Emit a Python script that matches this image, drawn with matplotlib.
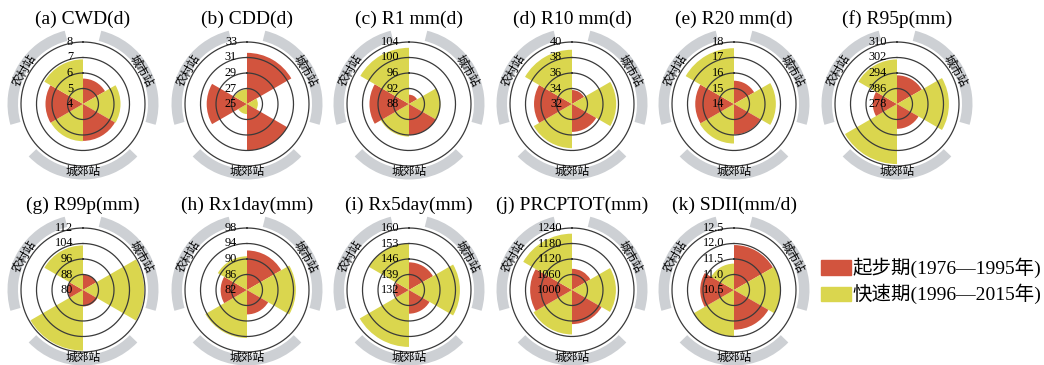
import numpy as np
import matplotlib
matplotlib.use("Agg")
import matplotlib.pyplot as plt
from matplotlib.transforms import offset_copy
from matplotlib.patches import Rectangle

plt.rcParams['font.family'] = ['Liberation Serif', 'Noto Sans CJK SC']

# ---------------- data ----------------
titles = ['(a) CWD(d)', '(b) CDD(d)', '(c) R1 mm(d)', '(d) R10 mm(d)', '(e) R20 mm(d)',
          '(f) R95p(mm)', '(g) R99p(mm)', '(h) Rx1day(mm)', '(i) Rx5day(mm)',
          '(j) PRCPTOT(mm)', '(k) SDII(mm/d)']

ticks_a = [4, 5, 6, 7, 8]
ticks_b = [25, 27, 29, 31, 33]
ticks_c = [88, 92, 96, 100, 104]
ticks_d = [32, 34, 36, 38, 40]
ticks_e = [14, 15, 16, 17, 18]
ticks_f = [278, 286, 294, 302, 310]
ticks_g = [80, 88, 96, 104, 112]
ticks_h = [82, 86, 90, 94, 98]
ticks_i = [132, 139, 146, 153, 160]
ticks_j = [1000, 1060, 1120, 1180, 1240]
ticks_k = [10.5, 11.0, 11.5, 12.0, 12.5]
tick_sets = [ticks_a, ticks_b, ticks_c, ticks_d, ticks_e, ticks_f,
             ticks_g, ticks_h, ticks_i, ticks_j, ticks_k]

stations = ['城市站', '城郊站', '农村站']
periods = ['起步期(1976—1995年)', '快速期(1996—2015年)']

# values per station (城市站, 城郊站, 农村站)
early_a = [5.64, 6.38, 6.42];   fast_a = [6.42, 6.40, 6.88]
early_b = [31.6, 31.0, 30.2];   fast_b = [26.4, 26.3, 26.9]
early_c = [90.4, 96.0, 98.2];   fast_c = [96.1, 96.4, 102.5]
early_d = [33.8, 35.6, 36.9];   fast_d = [37.7, 37.7, 39.0]
early_e = [15.5, 15.97, 16.5];  fast_e = [16.7, 16.55, 17.6]
early_f = [292.8, 290.8, 290.5]; fast_f = [304.8, 309.0, 301.0]
early_g = [88.0, 88.5, 87.8];   fast_g = [111.6, 111.3, 103.0]
early_h = [92.2, 88.3, 88.8];   fast_h = [94.6, 94.4, 90.7]
early_i = [144.5, 142.7, 138.5]; fast_i = [155.0, 157.7, 153.0]
early_j = [1082, 1132, 1162];   fast_j = [1170, 1172, 1218]
early_k = [11.95, 11.78, 11.59]; fast_k = [12.0, 12.0, 11.35]
early_sets = [early_a, early_b, early_c, early_d, early_e, early_f,
              early_g, early_h, early_i, early_j, early_k]
fast_sets = [fast_a, fast_b, fast_c, fast_d, fast_e, fast_f,
             fast_g, fast_h, fast_i, fast_j, fast_k]

# ---------------- style / layout ----------------
RED = '#D2543E'
YEL = '#DAD64E'
GREY = '#CDD0D4'
LINE = '#3a3a3a'

W, H = 1044, 365
fig = plt.figure(figsize=(W / 100, H / 100), dpi=100)

centers_x = [83, 247, 409, 572, 734, 897]
row_y = [104, 290]
R_OUT = 62.0          # px radius of last tick circle
R_AX = R_OUT * 1.25   # px radius of axes

station_angles = [60, 180, 300]

for idx in range(11):
    row = 0 if idx < 6 else 1
    col = idx if idx < 6 else idx - 6
    cx = centers_x[col]
    cy = row_y[row]
    ticks = tick_sets[idx]
    rmin, tmax = ticks[0], ticks[-1]
    k = (tmax - rmin) / R_OUT   # data per px

    ax = fig.add_axes([(cx - R_AX) / W, (H - cy - R_AX) / H, 2 * R_AX / W, 2 * R_AX / H],
                      projection='polar')
    ax.set_theta_zero_location('N')
    ax.set_theta_direction(-1)
    ax.set_ylim(rmin, rmin + R_AX * k)
    ax.set_xticks([])
    ax.set_yticks([])
    ax.grid(False)
    ax.spines['polar'].set_visible(False)
    ax.patch.set_alpha(0)

    # bars
    for s, base in enumerate(station_angles):
        e = early_sets[idx][s]
        f = fast_sets[idx][s]
        ax.bar(np.deg2rad(base - 30), e - rmin, width=np.deg2rad(60), bottom=rmin,
               color=RED, edgecolor='none', align='center', zorder=2)
        ax.bar(np.deg2rad(base + 30), f - rmin, width=np.deg2rad(60), bottom=rmin,
               color=YEL, edgecolor='none', align='center', zorder=2)
        # grey station arcs
        ax.bar(np.deg2rad(base), 10.5 * k, width=np.deg2rad(92), bottom=rmin + 65 * k,
               color=GREY, edgecolor='none', align='center', zorder=1)

    # circles
    th = np.linspace(0, 2 * np.pi, 500)
    for v in ticks[1:]:
        ax.plot(th, np.full_like(th, v), color=LINE, lw=0.9, zorder=3)

    # tick labels
    trans = offset_copy(ax.transData, fig=fig, x=-10, y=0, units='dots')
    for v in ticks:
        lab = f'{v:.1f}' if isinstance(v, float) else str(v)
        ax.text(0, v, lab, transform=trans, ha='right', va='center',
                fontsize=8.8, zorder=4, family='Liberation Serif')

    # station labels
    rot = {60: -60, 180: 0, 300: 60}
    for s, base in enumerate(station_angles):
        ax.text(np.deg2rad(base), rmin + 67 * k, stations[s], rotation=rot[base],
                rotation_mode='anchor', ha='center', va='center', fontsize=8.5,
                family='Noto Sans CJK SC', zorder=4)

    # title
    fig.text(cx / W, 1 - (cy - 80) / H, titles[idx], ha='center', va='baseline',
             fontsize=14)

# legend
for j, (c, lab) in enumerate(zip([RED, YEL], periods)):
    y_top = 260 + j * 26.5
    fig.patches.append(Rectangle((821 / W, 1 - (y_top + 14.5) / H), 29.5 / W, 14.5 / H,
                                 transform=fig.transFigure, color=c, zorder=5))
    fig.text(852 / W, 1 - (y_top + 7.5) / H, lab, ha='left', va='center', fontsize=14)

fig.savefig('out.png', dpi=100)
